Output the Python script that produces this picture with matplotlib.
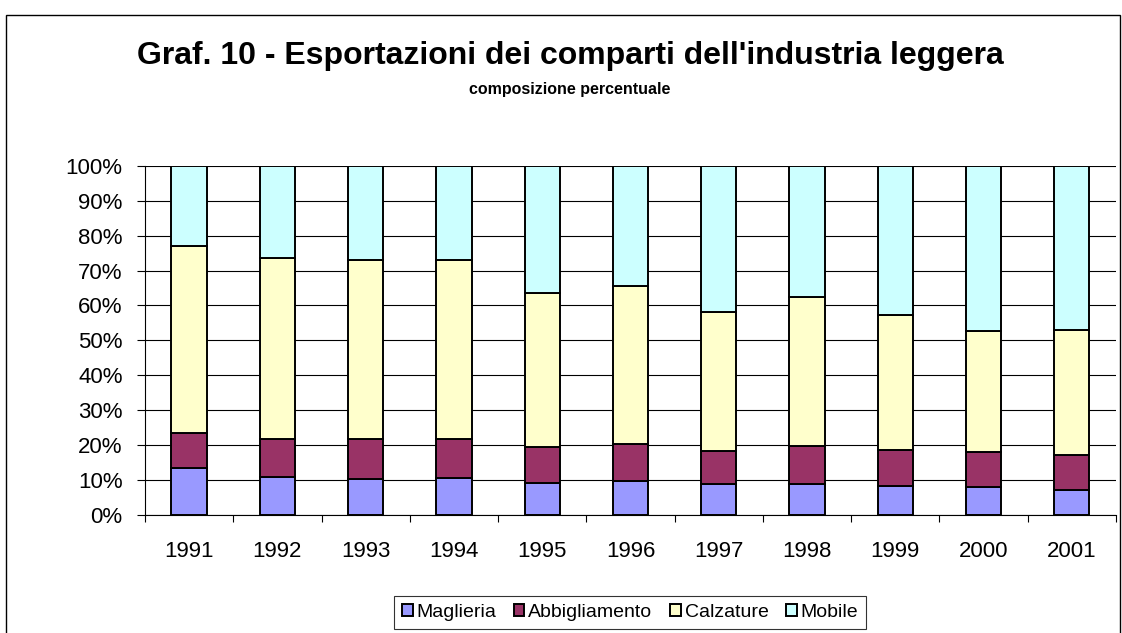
import matplotlib
matplotlib.use("Agg")
import matplotlib.pyplot as plt
import numpy as np
from matplotlib.patches import Rectangle

plt.rcParams['font.family'] = ['Liberation Sans', 'DejaVu Sans']

# dati (quote percentuali)
anni = ['1991', '1992', '1993', '1994', '1995', '1996', '1997', '1998', '1999', '2000', '2001']
maglieria = [13.4, 11.0, 10.2, 10.6, 9.3, 9.6, 8.8, 8.8, 8.3, 8.0, 7.3]
abbigliamento = [10.2, 10.9, 11.5, 11.1, 10.3, 10.7, 9.6, 11.1, 10.3, 9.9, 9.9]
calzature = [53.4, 51.6, 51.3, 51.3, 43.9, 45.3, 39.7, 42.5, 38.7, 34.8, 35.8]
mobile = [23.0, 26.5, 27.0, 27.0, 36.5, 34.4, 41.9, 37.6, 42.7, 47.3, 47.0]

serie = [
    ('Maglieria', maglieria, '#9999FF'),
    ('Abbigliamento', abbigliamento, '#993366'),
    ('Calzature', calzature, '#FFFFCC'),
    ('Mobile', mobile, '#CCFFFF'),
]

fig = plt.figure(figsize=(11.22, 6.33), dpi=100)
ax = fig.add_axes([0.1292, 0.1864, 0.8654, 0.5518])

x = np.arange(len(anni))
base = np.zeros(len(anni))
for nome, val, col in serie:
    ax.bar(x, val, 0.4, bottom=base, color=col, edgecolor='black', linewidth=1.4,
           label=nome, zorder=3)
    base = base + np.array(val)

ax.set_xlim(-0.5, len(anni) - 0.5)
ax.set_ylim(0, 100)
ax.set_yticks(np.arange(0, 101, 10))
ax.set_yticklabels(['%d%%' % v for v in range(0, 101, 10)], fontsize=16)
ax.yaxis.grid(True, color='black', linewidth=0.8, zorder=0)
ax.set_axisbelow(True)

ax.set_xticks(np.arange(-0.5, len(anni), 1.0))
ax.set_xticklabels([])
ax.set_xticks(x, minor=True)
ax.set_xticklabels(anni, minor=True, fontsize=16)
ax.tick_params(axis='x', which='major', direction='out', length=5, width=0.8)
ax.tick_params(axis='x', which='minor', length=0, pad=19)
ax.tick_params(axis='y', direction='out', length=6, width=0.8, pad=10)

for s in ['top', 'right']:
    ax.spines[s].set_visible(False)
for s in ['left', 'bottom']:
    ax.spines[s].set_color('black')
    ax.spines[s].set_linewidth(0.8)

fig.text(0.508, 0.912, "Graf. 10 - Esportazioni dei comparti dell'industria leggera",
         ha='center', va='center', fontsize=23, fontweight='bold')
fig.text(0.508, 0.859, "composizione percentuale", ha='center', va='center',
         fontsize=11.5, fontweight='bold')

leg = fig.legend(loc='center', bbox_to_anchor=(0.5615, 0.0324), ncol=4, fontsize=14,
                 frameon=True, fancybox=False, shadow=False, handlelength=0.55,
                 handleheight=0.55, handletextpad=0.2, columnspacing=0.9,
                 borderpad=0.4, borderaxespad=0)
leg.get_frame().set_edgecolor('black')
leg.get_frame().set_linewidth(0.8)

# cornice esterna
fig.patches.append(Rectangle((6 / 1122, -0.05), 1114 / 1122, 1.05 - 15 / 633,
                             transform=fig.transFigure, fill=False,
                             edgecolor='black', linewidth=1.0))

fig.savefig('out.png', dpi=100)
